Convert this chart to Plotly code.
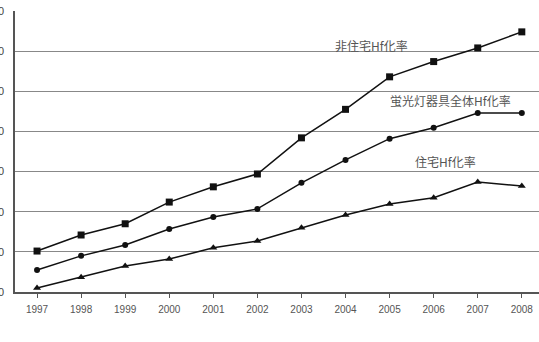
import plotly.graph_objects as go

years = ["1997", "1998", "1999", "2000", "2001", "2002", "2003", "2004", "2005", "2006", "2007", "2008"]
non_residential = [10.2, 14.2, 17.0, 22.4, 26.2, 29.4, 38.4, 45.5, 53.6, 57.4, 60.8, 64.8]
overall = [5.5, 9.0, 11.7, 15.7, 18.7, 20.7, 27.2, 32.9, 38.2, 40.9, 44.6, 44.6]
residential = [1.0, 3.7, 6.5, 8.2, 11.0, 12.7, 16.0, 19.2, 21.9, 23.5, 27.4, 26.4]
series_names = ["非住宅Hf化率", "蛍光灯器具全体Hf化率", "住宅Hf化率"]
y_ticks = [0, 10, 20, 30, 40, 50, 60, 70]

fig = go.Figure()
for vals, sym, size, name in [
    (non_residential, "square", 7, series_names[0]),
    (overall, "circle", 6, series_names[1]),
    (residential, "triangle-up", 7, series_names[2]),
]:
    fig.add_trace(go.Scatter(
        x=list(range(len(years))), y=vals, mode="lines+markers", name=name,
        line=dict(color="#111111", width=1.5),
        marker=dict(symbol=sym, size=size, color="#111111"),
        showlegend=False,
    ))

label_pos = [(7.6, 61.5), (9.39, 47.8), (9.26, 32.4)]
for name, (lx, ly) in zip(series_names, label_pos):
    fig.add_annotation(x=lx, y=ly, text=name, showarrow=False,
                       font=dict(size=12, color="#555555", family="Noto Sans CJK JP"))

fig.update_layout(
    width=539, height=342,
    margin=dict(l=15, r=0, t=11, b=50),
    paper_bgcolor="white", plot_bgcolor="white",
    font=dict(family="Liberation Sans", color="#444444"),
    xaxis=dict(
        range=[-0.5, 11.39],
        tickmode="array", tickvals=list(range(len(years))), ticktext=years,
        showgrid=False, showline=True, linecolor="#555555", linewidth=1.5,
        ticks="outside", ticklen=4, tickcolor="#555555", tickson="boundaries",
        ticklabelstandoff=3,
        tickfont=dict(size=10, color="#555555"), zeroline=False,
    ),
    yaxis=dict(
        range=[0, 70], tickvals=y_ticks,
        showgrid=True, gridcolor="#888888", gridwidth=1,
        showline=True, linecolor="#555555", linewidth=1.5,
        ticks="", ticklabelstandoff=7,
        tickfont=dict(size=11, color="#444444"), zeroline=False,
        automargin=False,
    ),
)

fig.write_html("out.html")
